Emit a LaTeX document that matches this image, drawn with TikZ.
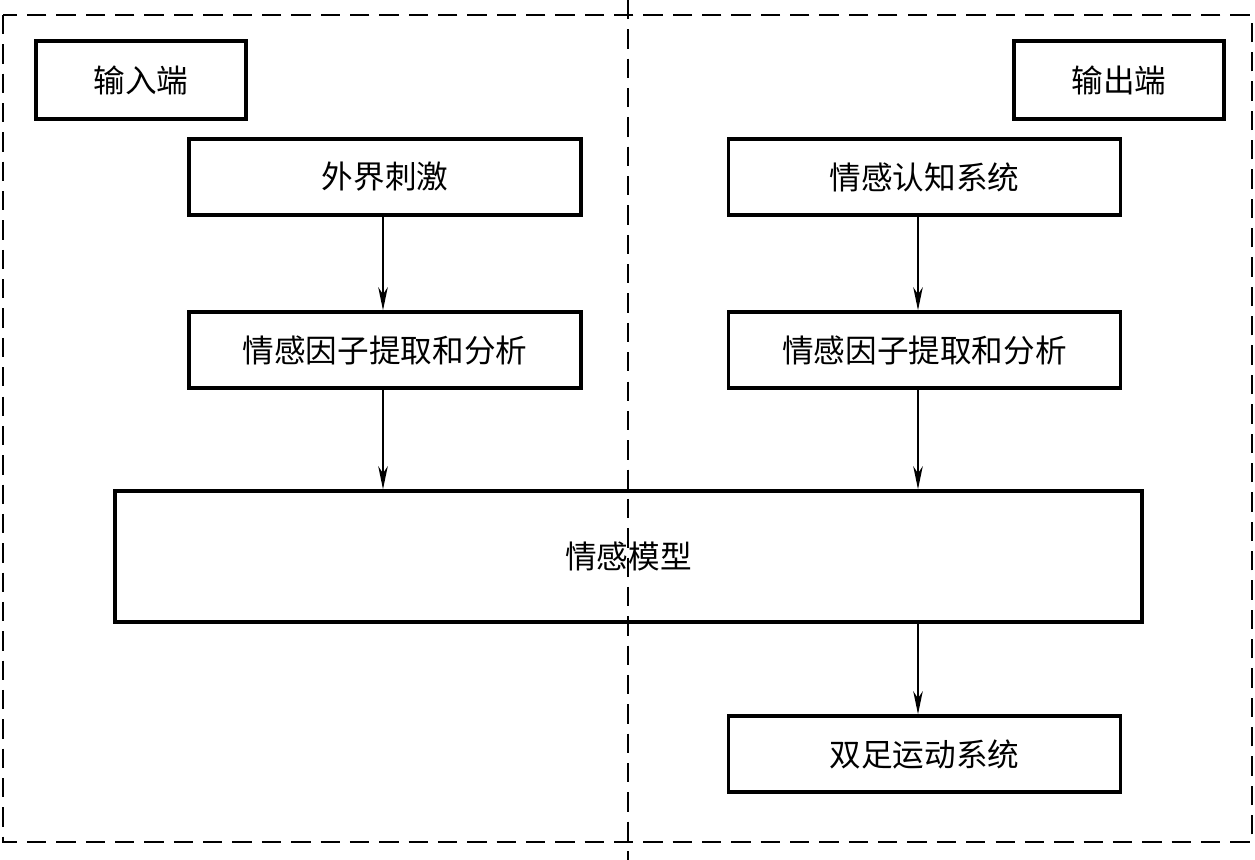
\documentclass[tikz,border=0pt]{standalone}
\usepackage{fontspec}
\setmainfont{Noto Sans CJK SC}
\usepackage{tikz}
\usetikzlibrary{arrows.meta,positioning}

\begin{document}
\begin{tikzpicture}[
    >={Stealth[length=4.6mm,width=1.9mm,inset=1.4mm]},
    blockbox/.style={draw=black, line width=2pt, minimum width=7.84cm,
      minimum height=1.52cm, align=center, font=\fontsize{18}{20}\selectfont},
    sidebox/.style={blockbox, minimum width=4.2cm, minimum height=1.56cm},
    flow/.style={->, line width=0.85pt},
    frame/.style={line width=1.1pt, dash pattern=on 11pt off 5.7pt}
  ]
    \useasboundingbox (0,0) rectangle (25.1,-17.2);

    % dashed frame and middle divider
    \draw[frame] (0.06,-0.30) rectangle (25.04,-16.84);
    \coordinate (divtop) at (12.56,0);
    \coordinate (divbot) at (12.56,-17.2);
    \draw[frame] (divtop) -- (divbot);

    \node[sidebox] (inend) at (2.82,-1.60) {输入端};
    \node[sidebox] (outend) at (22.38,-1.60) {输出端};

    \node[blockbox] (stim) at (7.70,-3.54) {外界刺激};
    \node[blockbox] (cogn) at (18.49,-3.54) {情感认知系统};
    \node[blockbox] (facl) at (7.70,-7.00) {情感因子提取和分析};
    \node[blockbox] (facr) at (18.49,-7.00) {情感因子提取和分析};

    \node[blockbox, minimum width=20.54cm, minimum height=2.62cm]
      (model) at (12.57,-11.13) {情感模型};

    \node[blockbox] (walk) at (18.49,-15.08) {双足运动系统};

    \draw[flow] ([xshift=-0.4mm]stim.south) -- ([xshift=-0.4mm]facl.north);
    \draw[flow] ([xshift=-1.3mm]cogn.south) -- ([xshift=-1.3mm]facr.north);
    \draw[flow] ([xshift=-0.4mm]facl.south) -- ([xshift=-0.4mm]facl.south |- model.north);
    \draw[flow] ([xshift=-1.3mm]facr.south) -- ([xshift=-1.3mm]facr.south |- model.north);
    \draw[flow] ([xshift=-1.3mm]walk.north |- model.south) -- ([xshift=-1.3mm]walk.north);
  \end{tikzpicture}
\end{document}
